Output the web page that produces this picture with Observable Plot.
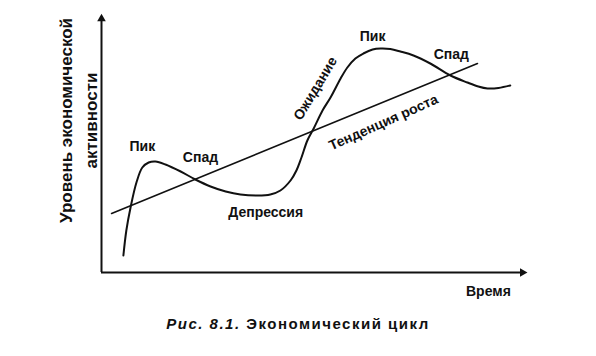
<!DOCTYPE html>
<html><head><meta charset="utf-8">
<script src="https://cdn.jsdelivr.net/npm/d3@7"></script>
<script src="https://cdn.jsdelivr.net/npm/@observablehq/plot@0.6"></script>
<style>
body{margin:0;background:#fff;font-family:"Liberation Sans",Arial,sans-serif;}
#cap{width:596px;text-align:center;font-size:15px;font-weight:bold;letter-spacing:1.5px;margin-top:11px;line-height:16px;color:#111;}
</style></head><body>
<div id="chart"></div>
<div id="cap"><i>Рис. 8.1.</i> Экономический цикл</div>
<script>
// Cycle curve (time, activity), arbitrary units
const cycleT = [5.2,5.9,6.9,8.3,9.7,11.2,12.8,15.2,18.8,22.3,25.9,29.5,33.0,37.1,40.1,42.5,44.9,46.3,47.5,48.9,50.4,52.5,54.4,56.8,58.4,60.3,62.2,64.4,66.3,68.6,71.0,74.1,78.1,82.9,86.9,89.5,91.7,94.3,97.1];
const cycleV = [6.8,16.8,26,36,42,44,44.4,43.2,40.4,37.2,34.4,32.4,31.2,30.8,31.2,32.8,36.8,40.8,46,52.8,57.6,64.8,70,77.6,82,85.6,87.6,89.2,89.6,89.4,88.4,86.8,83.6,78.8,76,74.4,73.6,73.8,74.8];
// Trend line
const trendT = [2.4, 89.3];
const trendV = [23.6, 83.6];
// Phase labels
const labelText = ["Пик","Спад","Депрессия","Ожидание","Пик","Спад","Тенденция роста"];
const labelT = [9.7,23.5,39,50.8,64.4,83.1,67.0];
const labelV = [50.4,46,24,73.6,94.4,87.2,60];
const labelAngle = [0,0,0,-59,0,0,-24];
const xTitle = "Время";
const yTitle = "Уровень экономической\nактивности";

const cycle = cycleT.map((t,i)=>({t, v: cycleV[i]}));
const trend = trendT.map((t,i)=>({t, v: trendV[i]}));
const labels = labelText.map((s,i)=>({s, t: labelT[i], v: labelV[i], a: labelAngle[i]}));

const chart = Plot.plot({
  width: 596, height: 305,
  marginTop: 22, marginLeft: 101, marginRight: 74, marginBottom: 33,
  x: {domain:[0,100], axis:null},
  y: {domain:[0,100], axis:null},
  style: {fontFamily:'"Liberation Sans", Arial, sans-serif', background:"#fff"},
  marks: [
    Plot.ruleX([0], {y1: 0, y2: 101, stroke:"#111", strokeWidth:2}),
    Plot.ruleY([0], {x1: 0, x2: 100, stroke:"#111", strokeWidth:2}),
    Plot.dot([{t:0, v:101.5}], {x:"t", y:"v", symbol:"triangle", r:3.2, fill:"#111", stroke:null}),
    Plot.dot([{t:100, v:0}], {x:"t", y:"v", symbol:"triangle", r:3.2, fill:"#111", stroke:null, rotate:90}),
    Plot.line(trend, {x:"t", y:"v", stroke:"#111", strokeWidth:1.6}),
    Plot.line(cycle, {x:"t", y:"v", stroke:"#111", strokeWidth:2, curve:"catmull-rom"}),
    Plot.text(labels, {x:"t", y:"v", text:"s", rotate: d=>d.a, fontSize:14, fontWeight:"bold", fill:"#111"}),
    Plot.text([xTitle], {x:91.9, y:-7.6, text:d=>d, fontSize:14, fontWeight:"bold", fill:"#111"}),
    Plot.text([yTitle], {x:-6.0, y:60.8, text:d=>d, rotate:-90, fontSize:17, fontWeight:"bold", lineHeight:1.47, fill:"#111"})
  ]
});
document.getElementById("chart").appendChild(chart);
</script>
</body></html>
